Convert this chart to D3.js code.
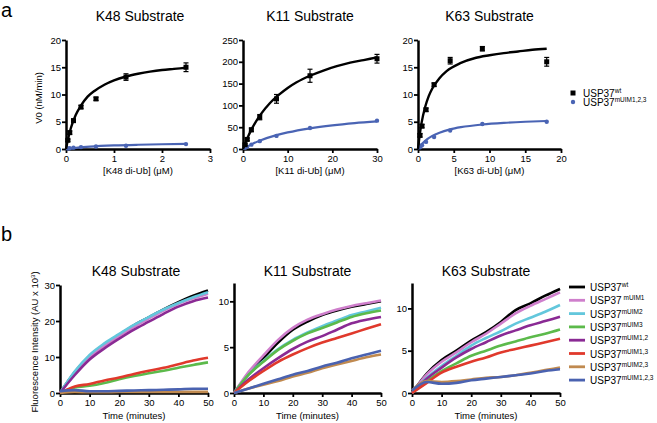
<!DOCTYPE html>
<html>
<head>
<meta charset="utf-8">
<script src="https://cdn.jsdelivr.net/npm/d3@7"></script>
<style>
  body { margin: 0; background: #fff; }
  svg { font-family: "Liberation Sans", Arial, sans-serif; }
</style>
</head>
<body>
<div id="chart"></div>
<script>
// ---- panel a data : concentrations, V0 means, errors, fit curves ----
var k48Conc = [0.039, 0.078, 0.156, 0.3125, 0.625, 1.25, 2.5];
var k48Wt = [1.6, 3.0, 5.2, 7.7, 9.2, 13.2, 15.0];
var k48WtErr = [0.2, 0.3, 0.3, 0.3, 0.3, 0.6, 0.8];
var k48Mut = [0.1, 0.15, 0.25, 0.35, 0.45, 0.6, 0.9];
var k48WtFit = [[0,0],[0.05,2.1],[0.1,3.8],[0.2,6.2],[0.3,7.8],[0.45,9.6],[0.6,10.7],[0.8,11.8],[1,12.6],[1.25,13.3],[1.5,13.8],[1.75,14.2],[2,14.5],[2.25,14.7],[2.5,14.9]];
var k48MutFit = [[0,0],[0.1,0.12],[0.25,0.26],[0.5,0.43],[1,0.65],[1.5,0.78],[2,0.87],[2.5,0.93]];

var k11Conc = [0.47, 0.94, 1.875, 3.75, 7.5, 15, 30];
var k11Wt = [10, 22, 44, 73, 115, 168, 207];
var k11WtErr = [2, 3, 4, 6, 10, 15, 10];
var k11Mut = [3, 5, 10, 18, 30, 48, 65];
var k11WtFit = [[0,0],[1,25.5],[2,46.7],[4,80],[6,105],[8,124],[10,140],[12,153],[15,168],[18,180],[21,190],[24,198],[27,204],[30,210]];
var k11MutFit = [[0,0],[1,5.9],[2,11.2],[4,20],[7.5,31.7],[10,38],[15,47.5],[20,54.3],[25,59.4],[30,63.3]];

var k63Conc = [0.28, 0.56, 1.125, 2.25, 4.5, 9, 18];
var k63Wt = [2.5, 4.2, 7.2, 11.8, 16.2, 18.4, 16.0];
var k63WtErr = [0.3, 0.3, 0.3, 0.3, 0.6, 0.4, 0.8];
var k63Mut = [0.3, 0.7, 1.3, 2.2, 3.4, 4.6, 5.0];
var k63WtFit = [[0,0],[0.25,2.7],[0.5,4.8],[1,7.7],[1.5,9.7],[2,11.1],[3,13],[4,14.3],[6,15.8],[8,16.7],[10,17.2],[12,17.6],[14,17.9],[16,18.2],[18,18.4]];
var k63MutFit = [[0,0],[0.5,0.86],[1,1.5],[2,2.4],[3,3],[4.5,3.6],[6,4],[9,4.5],[12,4.8],[15,5],[18,5.14]];

// ---- panel b data : fluorescence over time ----
var bTime = [0, 5, 10, 15, 20, 25, 30, 35, 40, 45, 50];
var bSeries = ["wt", " mUIM1", "mUIM2", "mUIM3", "mUIM1,2", "mUIM1,3", "mUIM2,3", "mUIM1,2,3"];
var bColors = ["#000000", "#cf7fcc", "#63c7dc", "#5cba4b", "#8a2a94", "#e0392c", "#c08a50", "#4a62b0"];

var bK48 = [
  [0, 5.8, 10.3, 13.5, 16.2, 18.8, 21.0, 23.2, 25.2, 27.0, 28.5],
  [0, 5.6, 10.0, 13.2, 15.9, 18.4, 20.7, 22.9, 24.8, 26.3, 27.6],
  [0, 6.0, 10.6, 13.8, 16.4, 18.9, 21.1, 23.2, 25.0, 26.6, 28.0],
  [0, 1.5, 2.0, 2.8, 3.8, 4.7, 5.5, 6.2, 7.0, 7.8, 8.5],
  [0, 5.0, 9.3, 12.4, 15.1, 17.6, 19.8, 22.0, 24.0, 25.5, 26.5],
  [0, 1.8, 2.5, 3.5, 4.3, 5.3, 6.2, 7.0, 8.0, 9.0, 9.8],
  [0, 0.3, 0.2, 0.2, 0.3, 0.3, 0.3, 0.3, 0.3, 0.3, 0.3],
  [0.5, 0.8, 0.5, 0.5, 0.6, 0.7, 0.8, 0.9, 1.0, 1.2, 1.2]
];
var bK11 = [
  [0, 2.1, 3.8, 5.5, 6.9, 7.8, 8.5, 9.0, 9.4, 9.7, 10.0],
  [0, 2.3, 4.1, 5.8, 7.1, 8.0, 8.6, 9.1, 9.5, 9.8, 10.1],
  [0, 2.0, 3.5, 4.8, 5.8, 6.6, 7.3, 7.9, 8.5, 8.9, 9.3],
  [0, 2.0, 3.4, 4.7, 5.7, 6.5, 7.1, 7.7, 8.3, 8.7, 9.0],
  [0, 1.5, 2.7, 3.8, 4.8, 5.6, 6.2, 6.9, 7.6, 8.0, 8.3],
  [0, 1.3, 2.4, 3.4, 4.2, 4.9, 5.5, 6.0, 6.5, 7.0, 7.5],
  [0, 0.5, 0.9, 1.3, 1.8, 2.2, 2.7, 3.1, 3.5, 3.9, 4.2],
  [0, 0.5, 1.0, 1.5, 2.0, 2.4, 2.9, 3.3, 3.8, 4.2, 4.6]
];
var bK63 = [
  [0, 2.3, 3.9, 5.0, 6.2, 7.2, 8.4, 9.8, 10.6, 11.5, 12.3],
  [0, 2.2, 3.7, 4.8, 6.0, 7.0, 8.2, 9.4, 10.3, 11.1, 11.9],
  [0, 1.8, 3.2, 4.4, 5.6, 6.5, 7.3, 8.2, 8.9, 9.6, 10.4],
  [0, 1.4, 2.6, 3.5, 4.4, 5.0, 5.6, 6.1, 6.6, 7.0, 7.5],
  [0, 1.7, 3.0, 4.2, 5.2, 6.0, 6.8, 7.4, 8.0, 8.5, 9.0],
  [0, 1.2, 2.4, 3.1, 3.7, 4.2, 4.8, 5.2, 5.6, 6.0, 6.4],
  [0.3, 1.4, 1.3, 1.4, 1.6, 1.8, 1.9, 2.1, 2.4, 2.7, 3.0],
  [0.3, 1.3, 1.1, 1.2, 1.5, 1.7, 1.9, 2.1, 2.3, 2.6, 2.8]
];

var width = 657, height = 423;
var blue = "#4a64b4";

var svg = d3.select("#chart").append("svg")
  .attr("width", width)
  .attr("height", height);

// draws axes for one small panel, returns scales
function makeAxes(p) {
  var x = d3.scaleLinear().domain(p.xDomain).range([p.left, p.right]);
  var y = d3.scaleLinear().domain(p.yDomain).range([p.bottom, p.top]);
  var fmt = d3.format("~g");
  var gx = svg.append("g")
    .attr("transform", `translate(0,${p.bottom})`)
    .call(d3.axisBottom(x).tickValues(p.xTicks).tickFormat(fmt).tickSize(4).tickSizeOuter(0).tickPadding(2));
  var gy = svg.append("g")
    .attr("transform", `translate(${p.left},0)`)
    .call(d3.axisLeft(y).tickValues(p.yTicks).tickFormat(fmt).tickSize(4).tickSizeOuter(0).tickPadding(1));
  [gx, gy].forEach(function(g) {
    g.select(".domain").attr("stroke-width", 2.5);
    g.selectAll(".tick line").attr("stroke-width", 1.8);
    g.selectAll(".tick text").attr("font-size", 9.5).attr("fill", "#000")
      .attr("font-family", "Liberation Sans, Arial, sans-serif");
  });
  svg.append("text").attr("x", (p.left + p.right) / 2 + (p.titleDx || 0)).attr("y", p.titleY)
    .attr("text-anchor", "middle").attr("font-size", 14).text(p.title);
  svg.append("text").attr("x", (p.left + p.right) / 2).attr("y", p.xLabelY)
    .attr("text-anchor", "middle").attr("font-size", 9.5).text(p.xLabel);
  return { x: x, y: y };
}

// ---------- panel a ----------
svg.append("text").attr("x", 1).attr("y", 17).attr("font-size", 20).text("a");

var aPanels = [
  { left: 66, right: 210, xDomain: [0, 3], xTicks: [0, 1, 2, 3], yDomain: [0, 20], yTicks: [0, 5, 10, 15, 20],
    title: "K48 Substrate", xLabel: "[K48 di-Ub] (\u03bcM)", conc: k48Conc, wt: k48Wt, err: k48WtErr, mut: k48Mut, wtFit: k48WtFit, mutFit: k48MutFit, titleDx: 2 },
  { left: 243, right: 377, xDomain: [0, 30], xTicks: [0, 10, 20, 30], yDomain: [0, 250], yTicks: [0, 50, 100, 150, 200, 250],
    title: "K11 Substrate", xLabel: "[K11 di-Ub] (\u03bcM)", conc: k11Conc, wt: k11Wt, err: k11WtErr, mut: k11Mut, wtFit: k11WtFit, mutFit: k11MutFit, titleDx: 0 },
  { left: 418, right: 561, xDomain: [0, 20], xTicks: [0, 5, 10, 15, 20], yDomain: [0, 20], yTicks: [0, 5, 10, 15, 20],
    title: "K63 Substrate", xLabel: "[K63 di-Ub] (\u03bcM)", conc: k63Conc, wt: k63Wt, err: k63WtErr, mut: k63Mut, wtFit: k63WtFit, mutFit: k63MutFit, titleDx: 0 }
];

aPanels.forEach(function(p) {
  p.top = 40; p.bottom = 149; p.titleY = 21; p.xLabelY = 174;
  var s = makeAxes(p);
  var line = d3.line().x(d => s.x(d[0])).y(d => s.y(d[1])).curve(d3.curveMonotoneX);

  svg.append("path").datum(p.mutFit).attr("d", line)
    .attr("fill", "none").attr("stroke", blue).attr("stroke-width", 2.2);
  svg.append("g").selectAll("circle").data(p.conc).join("circle")
    .attr("cx", d => s.x(d)).attr("cy", (d, i) => s.y(p.mut[i])).attr("r", 2.2)
    .attr("fill", blue);

  svg.append("path").datum(p.wtFit).attr("d", line)
    .attr("fill", "none").attr("stroke", "#000").attr("stroke-width", 2.4);

  var eb = svg.append("g").attr("stroke", "#000").attr("stroke-width", 1.2);
  p.conc.forEach(function(c, i) {
    var cx = s.x(c), y1 = s.y(p.wt[i] + p.err[i]), y0 = s.y(p.wt[i] - p.err[i]);
    eb.append("line").attr("x1", cx).attr("x2", cx).attr("y1", y1).attr("y2", y0);
    eb.append("line").attr("x1", cx - 2.5).attr("x2", cx + 2.5).attr("y1", y1).attr("y2", y1);
    eb.append("line").attr("x1", cx - 2.5).attr("x2", cx + 2.5).attr("y1", y0).attr("y2", y0);
  });
  svg.append("g").selectAll("rect").data(p.conc).join("rect")
    .attr("x", d => s.x(d) - 2.5).attr("y", (d, i) => s.y(p.wt[i]) - 2.5)
    .attr("width", 5).attr("height", 5).attr("fill", "#000");
});

svg.append("text").attr("transform", "translate(42,98) rotate(-90)")
  .attr("text-anchor", "middle").attr("font-size", 9.5).text("V0 (nM/min)");

// legend a
var legA = svg.append("g").attr("font-size", 10);
legA.append("rect").attr("x", 570.5).attr("y", 90.5).attr("width", 5).attr("height", 5).attr("fill", "#000");
legA.append("circle").attr("cx", 573).attr("cy", 102).attr("r", 2.2).attr("fill", blue);
[["wt", 96.5], ["mUIM1,2,3", 106]].forEach(function(r) {
  var t = legA.append("text").attr("x", 583).attr("y", r[1]).text("USP37");
  t.append("tspan").attr("font-size", 6.5).attr("dy", -4).text(r[0]);
});

// ---------- panel b ----------
svg.append("text").attr("x", 1).attr("y", 241).attr("font-size", 20).text("b");

var bPanels = [
  { left: 60, right: 208, top: 285, yDomain: [0, 30], yTicks: [0, 10, 20, 30], title: "K48 Substrate", data: bK48, titleDx: 2 },
  { left: 234, right: 381, top: 283, yDomain: [0, 12], yTicks: [0, 5, 10], title: "K11 Substrate", data: bK11, titleDx: 0 },
  { left: 412, right: 560, top: 283, yDomain: [0, 13], yTicks: [0, 5, 10], title: "K63 Substrate", data: bK63, titleDx: 0 }
];

bPanels.forEach(function(p) {
  p.bottom = 393; p.xDomain = [0, 50]; p.xTicks = [0, 10, 20, 30, 40, 50];
  p.titleY = 276; p.xLabelY = 419; p.xLabel = "Time (minutes)";
  var s = makeAxes(p);
  var line = d3.line().x((d, i) => s.x(bTime[i])).y(d => s.y(d)).curve(d3.curveMonotoneX);
  svg.append("g").selectAll("path").data(p.data).join("path")
    .attr("d", line).attr("fill", "none")
    .attr("stroke", (d, i) => bColors[i]).attr("stroke-width", 2.6);
});

var yLab = svg.append("text").attr("transform", "translate(38,342) rotate(-90)")
  .attr("text-anchor", "middle").attr("font-size", 9.5)
  .text("Fluorescence Intensity (AU x 10");
yLab.append("tspan").attr("font-size", 6).attr("dy", -3).text("3");
yLab.append("tspan").attr("dy", 3).text(")");

// legend b
var legB = svg.append("g").attr("font-size", 10);
bSeries.forEach(function(name, i) {
  var yy = 287 + i * 13.3;
  legB.append("line").attr("x1", 569).attr("x2", 585).attr("y1", yy).attr("y2", yy)
    .attr("stroke", bColors[i]).attr("stroke-width", 2.8);
  var t = legB.append("text").attr("x", 590).attr("y", yy + 4).text("USP37");
  t.append("tspan").attr("font-size", 6.5).attr("dy", -4).text(name);
});
</script>
</body>
</html>
